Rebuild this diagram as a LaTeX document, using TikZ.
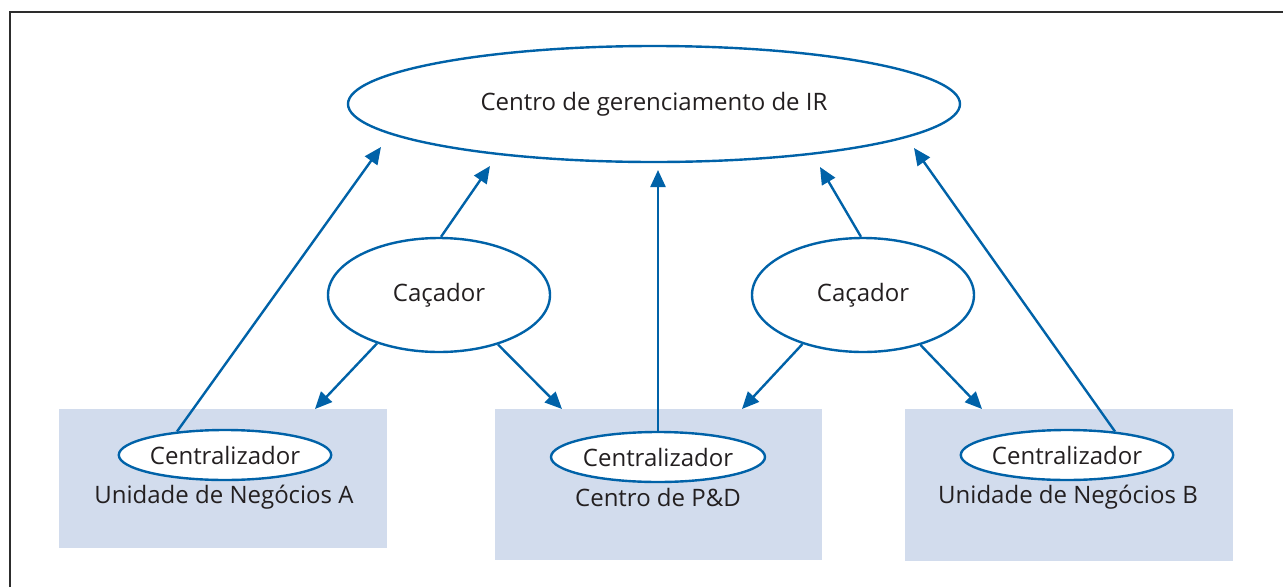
\documentclass[tikz,border=0pt]{standalone}
\usepackage{fontspec}
\setmainfont{Open Sans}
\usetikzlibrary{arrows.meta,shapes.geometric}
\definecolor{lblue}{RGB}{0,98,168}
\definecolor{boxfill}{RGB}{210,220,237}
\definecolor{txt}{RGB}{35,31,32}
\definecolor{frame}{RGB}{45,45,45}
\tikzset{
  oval/.style={ellipse,draw=lblue,line width=2.4pt,fill=white,inner sep=0pt,text=txt,font=\fontsize{24}{28}\selectfont},
  unitbox/.style={fill=boxfill,draw=none,inner sep=0pt},
  lbl/.style={text=txt,font=\fontsize{24}{28}\selectfont,inner sep=0pt},
  arr/.style={draw=lblue,line width=2.4pt,-{Triangle[length=17pt,width=15pt]}}
}
\begin{document}
\begin{tikzpicture}[x=1pt,y=-1pt]
\useasboundingbox (0,0) rectangle (1283,587);
% frame
\draw[frame,line width=2.6pt] (10,587) -- (10,12) -- (1283,12);
% boxes
\node[unitbox,minimum width=328pt,minimum height=139pt] (boxA) at (223,478.5) {};
\node[unitbox,minimum width=327pt,minimum height=151pt] (boxC) at (658.5,484.5) {};
\node[unitbox,minimum width=328pt,minimum height=152pt] (boxB) at (1069,485) {};
% top ellipse
\node[oval,minimum width=612pt,minimum height=116pt] (ir) at (654,104) {Centro de gerenciamento de IR};
% hunters
\node[oval,minimum width=222pt,minimum height=114pt] (cacL) at (439,295) {Caçador};
\node[oval,minimum width=222pt,minimum height=114pt] (cacR) at (863,295) {Caçador};
% centralizers
\node[oval,minimum width=210pt,minimum height=50pt] (cenA) at (225,455) {Centralizador};
\node[oval,minimum width=214pt,minimum height=50pt] (cenC) at (658,457) {Centralizador};
\node[oval,minimum width=210pt,minimum height=50pt] (cenB) at (1067,455) {Centralizador};
% labels
\node[lbl] (labA) at (224,497) {Unidade de Negócios A};
\node[lbl] (labC) at (658,497) {Centro de P\&D};
\node[lbl] (labB) at (1068,497) {Unidade de Negócios B};
% arrow tips
\coordinate (tA) at (381,147);
\coordinate (tL) at (490,166);
\coordinate (tC) at (658,170);
\coordinate (tR) at (820,167);
\coordinate (tB) at (914,148);
\coordinate (bA) at (315,409);
\coordinate (bC1) at (562,409);
\coordinate (bC2) at (742,409);
\coordinate (bB) at (982,409);
% arrows
\draw[arr] (cenA.154) -- (tA);
\draw[arr] (cacL.88) -- (tL);
\draw[arr] (cenC.north) -- (tC);
\draw[arr] (cacR.92) -- (tR);
\draw[arr] (cenB.26) -- (tB);
\draw[arr] (cacL.218) -- (bA);
\draw[arr] (cacL.320) -- (bC1);
\draw[arr] (cacR.219) -- (bC2);
\draw[arr] (cacR.319) -- (bB);
\end{tikzpicture}
\end{document}
